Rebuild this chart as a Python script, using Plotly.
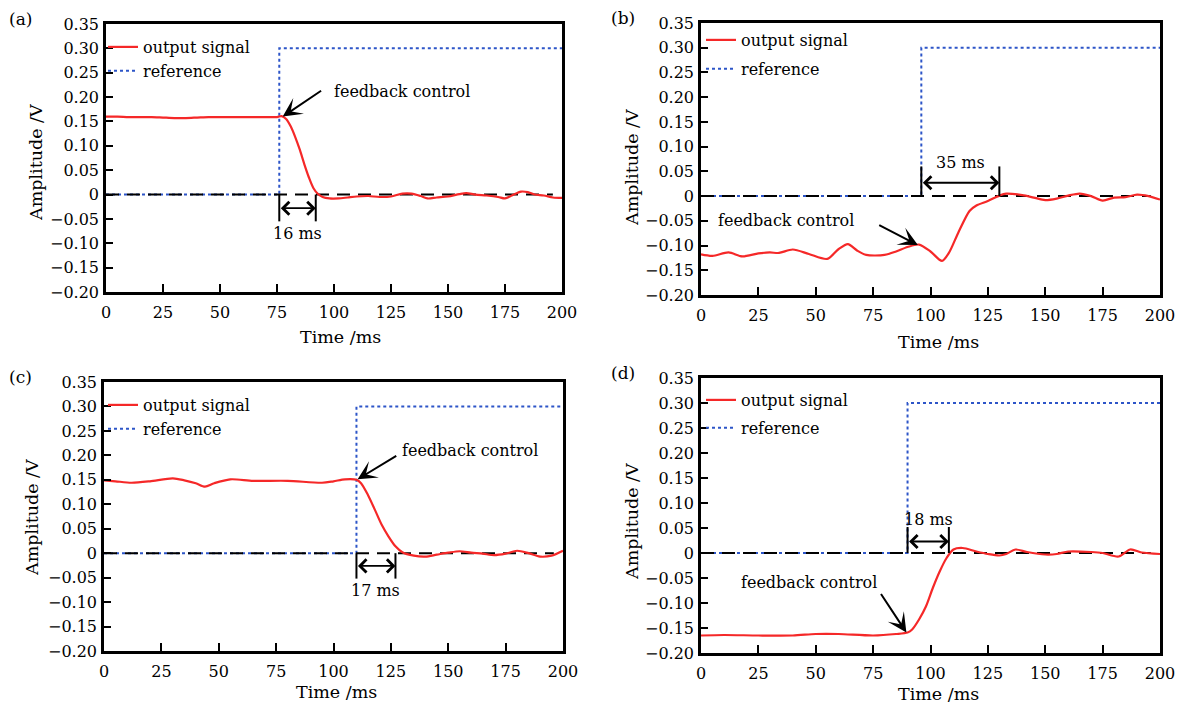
import plotly.graph_objects as go

W, H = 1177, 704
FONT = "DejaVu Serif"

# ---------------- data ----------------
t_a = [0, 5, 10, 15, 20, 25, 30, 35, 40, 45, 50, 55, 60, 65, 70, 75, 77, 79, 81, 83, 85, 87, 89, 91, 93, 95, 98,
       102, 106, 110, 115, 120, 125, 130, 134, 138, 141, 145, 150, 155, 158, 162, 167, 172, 175, 178, 182, 185, 188, 192, 196, 200]
v_a = [0.160, 0.160, 0.159, 0.159, 0.159, 0.158, 0.157, 0.157, 0.158, 0.159, 0.159, 0.159, 0.159, 0.159, 0.159, 0.159,
       0.161, 0.155, 0.140, 0.118, 0.092, 0.062, 0.035, 0.013, 0.001, -0.005, -0.008,
       -0.008, -0.006, -0.004, -0.003, -0.005, -0.004, 0.002, 0.002, -0.003, -0.008, -0.006, -0.004, 0.001, 0.003, 0.000,
       -0.002, -0.005, -0.008, -0.002, 0.006, 0.005, 0.000, -0.002, -0.006, -0.007]

t_b = [0, 5, 12, 18, 25, 30, 34, 40, 47, 55, 60, 64, 68, 72, 80, 85, 90, 95, 100, 105,
       108, 112, 117, 120, 125, 130, 133, 140, 145, 150, 155, 160, 165, 170, 175, 180, 185, 190, 195, 200]
v_b = [-0.118, -0.121, -0.114, -0.122, -0.116, -0.114, -0.115, -0.108, -0.117, -0.127,
       -0.107, -0.097, -0.110, -0.119, -0.119, -0.112, -0.103, -0.098, -0.112, -0.131,
       -0.115, -0.075, -0.030, -0.019, -0.010, 0.001, 0.005, 0.002, -0.003, -0.008,
       -0.005, 0.001, 0.005, 0.000, -0.009, -0.003, -0.002, 0.003, 0.000, -0.007]

t_c = [0, 5, 12, 20, 30, 35, 40, 44, 48, 55, 65, 80, 95, 100, 105, 110, 112, 115, 118, 121,
       124, 127, 130, 135, 140, 145, 150, 155, 160, 165, 170, 175, 180, 185, 190, 195, 200]
v_c = [0.149, 0.147, 0.144, 0.147, 0.153, 0.149, 0.143, 0.136, 0.143, 0.151,
       0.148, 0.148, 0.144, 0.147, 0.151, 0.150, 0.143, 0.119, 0.089, 0.058,
       0.034, 0.014, 0.002, -0.005, -0.007, -0.003, 0.001, 0.004, 0.001, -0.001,
       -0.004, -0.001, 0.005, 0.000, -0.007, -0.005, 0.005]

t_d = [0, 10, 25, 40, 50, 60, 75, 85, 90, 92, 95, 98, 101, 104, 107, 110, 114, 120, 125, 130,
       133, 137, 142, 150, 155, 160, 170, 175, 182, 187, 192, 200]
v_d = [-0.165, -0.164, -0.165, -0.165, -0.162, -0.162, -0.165, -0.162, -0.159, -0.153,
       -0.133, -0.107, -0.070, -0.037, -0.010, 0.007, 0.010, 0.003, -0.002, -0.005,
       -0.002, 0.007, 0.002, -0.003, -0.002, 0.003, 0.002, 0.000, -0.007, 0.007, 0.001, -0.002]

# reference step (time of step, level)
step_times = [76, 96, 110, 90]
ref_level = 0.30
# settle window end times and labels
settle_times = [92, 130, 127, 108]
window_labels = ["16 ms", "35 ms", "17 ms", "18 ms"]
panel_labels = ["(a)", "(b)", "(c)", "(d)"]
target_t = [0, 196]
target_v = [0, 0]

x_ticks = [0, 25, 50, 75, 100, 125, 150, 175, 200]
y_ticks = [0.35, 0.30, 0.25, 0.20, 0.15, 0.10, 0.05, 0, -0.05, -0.10, -0.15, -0.20]
y_tick_text = ["0.35", "0.30", "0.25", "0.20", "0.15", "0.10", "0.05", "0",
               "\u22120.05", "\u22120.10", "\u22120.15", "\u22120.20"]

# ---------------- layout helpers ----------------
boxes = [(106, 24, 562, 292), (701, 23, 1160, 295), (104, 382, 563, 651), (701, 378, 1160, 653)]

def px(x):
    return x / W

def py(y):
    return 1 - y / H

series = [(t_a, v_a), (t_b, v_b), (t_c, v_c), (t_d, v_d)]

RED = "rgb(245,40,40)"
BLUE = "rgb(45,85,200)"

fig = go.Figure()
layout = dict(width=W, height=H, margin=dict(l=0, r=0, t=0, b=0, autoexpand=False),
              paper_bgcolor="white", plot_bgcolor="white", showlegend=True,
              font=dict(family=FONT, color="black", size=16))
annotations = []
shapes = []

# per-panel annotation geometry (data coordinates)
fb_arrows = [  # tip_t, tip_v, tail_t, tail_v, text_t, text_v, text_anchor
    (77.5, 0.160, 95, 0.215, 99, 0.212, "left"),
    (94.5, -0.099, 77, -0.057, 37, -0.049, "center"),
    (110.5, 0.151, 128, 0.201, 129, 0.210, "left"),
    (89.5, -0.159, 78, -0.079, 47, -0.059, "center"),
]
win_geo = [  # bar end v, arrow v, label v
    (-0.055, -0.028, -0.079),
    (0.060, 0.027, 0.067),
    (-0.052, -0.026, -0.077),
    (0.052, 0.023, 0.068),
]
# legend box left/top in px, group gap
legend_pos = [(103, 30, 0), (701, 23, 5), (103, 388, 0), (701, 383, 4)]
# axis title centres in px
ytitle_pos = [(36, 163), (632, 168), (32, 518), (632, 522)]
xtitle_pos = [(340, 337), (938, 342), (336, 692), (938, 694)]
label_pos = [(20, 19), (623, 18), (20, 377), (623, 373)]
TITLE_SIZE = 17.5

for i in range(4):
    n = i + 1
    sfx = "" if n == 1 else str(n)
    xa, ya = "x" + sfx, "y" + sfx
    x0, y0, x1, y1 = boxes[i]
    t, v = series[i]
    lg = "legend" + sfx

    # reference step
    fig.add_trace(go.Scatter(x=[0, step_times[i], 200], y=[0, ref_level, ref_level], mode="lines",
                             line=dict(color=BLUE, width=2, dash="dot", shape="hv"),
                             name="reference", xaxis=xa, yaxis=ya, legend=lg,
                             legendgroup="ref" + sfx, legendrank=2, hoverinfo="skip"))
    # target zero line
    fig.add_trace(go.Scatter(x=target_t, y=target_v, mode="lines",
                             line=dict(color="black", width=2, dash="13px,8px"),
                             showlegend=False, xaxis=xa, yaxis=ya, hoverinfo="skip"))
    # output signal
    fig.add_trace(go.Scatter(x=t, y=v, mode="lines",
                             line=dict(color=RED, width=2.2, shape="spline", smoothing=0.8),
                             name="output signal", xaxis=xa, yaxis=ya, legend=lg,
                             legendgroup="out" + sfx, legendrank=1, hoverinfo="skip"))

    layout["xaxis" + sfx] = dict(domain=[px(x0), px(x1)], range=[0, 200], anchor=ya,
                                 tickvals=x_ticks, ticks="inside", ticklen=8, tickwidth=2,
                                 tickcolor="black", showline=True, linewidth=2.5, linecolor="black",
                                 mirror=True, showgrid=False, zeroline=False, automargin=False,
                                 tickfont=dict(family=FONT, size=16, color="black"),
                                 ticklabelstandoff=4)
    layout["yaxis" + sfx] = dict(domain=[py(y1), py(y0)], range=[-0.2, 0.35], anchor=xa,
                                 tickvals=y_ticks, ticktext=y_tick_text, ticks="inside", ticklen=7,
                                 tickwidth=2, tickcolor="black", showline=True, linewidth=2.5,
                                 linecolor="black", mirror=True, showgrid=False, zeroline=False,
                                 automargin=False,
                                 tickfont=dict(family=FONT, size=16, color="black"),
                                 ticklabelstandoff=1)
    lx, ly, gap = legend_pos[i]
    layout[lg] = dict(x=px(lx), y=py(ly), xanchor="left", yanchor="top",
                      bgcolor="rgba(0,0,0,0)", borderwidth=0, tracegroupgap=gap,
                      font=dict(family=FONT, size=16, color="black"))

    # axis titles
    yx, yy = ytitle_pos[i]
    annotations.append(dict(text="Amplitude /V", xref="paper", yref="paper", x=px(yx), y=py(yy),
                            xanchor="center", yanchor="middle", textangle=-90, showarrow=False,
                            font=dict(family=FONT, size=TITLE_SIZE)))
    xx, xy = xtitle_pos[i]
    annotations.append(dict(text="Time /ms", xref="paper", yref="paper", x=px(xx), y=py(xy),
                            xanchor="center", yanchor="middle", showarrow=False,
                            font=dict(family=FONT, size=TITLE_SIZE)))

    # panel label
    lx2, ly2 = label_pos[i]
    annotations.append(dict(text=panel_labels[i], xref="paper", yref="paper",
                            x=px(lx2), y=py(ly2), xanchor="center", yanchor="middle",
                            showarrow=False, font=dict(family=FONT, size=17)))

    # feedback control arrow and text
    tip_t, tip_v, tail_t, tail_v, tx, tv, anc = fb_arrows[i]
    annotations.append(dict(text="", x=tip_t, y=tip_v, ax=tail_t, ay=tail_v, xref=xa, yref=ya,
                            axref=xa, ayref=ya, showarrow=True, arrowhead=3, arrowsize=1.6,
                            arrowwidth=2, arrowcolor="black", standoff=0, startstandoff=0))
    annotations.append(dict(text="feedback control", x=tx, y=tv, xref=xa, yref=ya,
                            xanchor=anc, yanchor="middle", showarrow=False,
                            font=dict(family=FONT, size=16)))

    # response window marker
    ts, te = step_times[i], settle_times[i]
    bar_v, arr_v, lab_v = win_geo[i]
    for tt in (ts, te):
        shapes.append(dict(type="line", xref=xa, yref=ya, x0=tt, x1=tt, y0=0, y1=bar_v,
                           line=dict(color="black", width=2)))
    annotations.append(dict(text="", x=te, y=arr_v, ax=ts, ay=arr_v, xref=xa, yref=ya,
                            axref=xa, ayref=ya, showarrow=True, arrowhead=4, arrowside="end+start",
                            arrowsize=1.4, arrowwidth=1.8, arrowcolor="black",
                            standoff=0, startstandoff=0))
    annotations.append(dict(text=window_labels[i], x=(ts + te) / 2, y=lab_v, xref=xa, yref=ya,
                            xanchor="center", yanchor="middle", showarrow=False,
                            font=dict(family=FONT, size=16)))

layout["annotations"] = annotations
layout["shapes"] = shapes
fig.update_layout(**layout)
# remove the browser's default 8px body margin so the figure fills the window exactly
fig.write_html("out.html", config={"displayModeBar": False},
               post_script="document.body.style.margin='0';document.body.style.overflow='hidden';")
